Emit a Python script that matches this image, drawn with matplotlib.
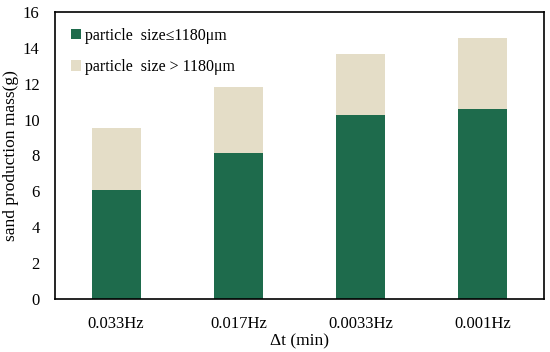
import matplotlib
matplotlib.use("Agg")
import matplotlib.pyplot as plt
import numpy as np

plt.rcParams['font.family'] = ['Liberation Serif', 'DejaVu Serif']

# data
categories = ["0.033Hz", "0.017Hz", "0.0033Hz", "0.001Hz"]
fine = [6.08, 8.14, 10.25, 10.6]      # particle size <= 1180um
coarse_total = [9.53, 11.8, 13.65, 14.55]
coarse = [t - f for t, f in zip(coarse_total, fine)]

fig = plt.figure(figsize=(5.5, 3.52), dpi=100)
ax = fig.add_axes([0.1, 0.1506, 0.889, 0.8154])

x = np.arange(len(categories))
ax.bar(x, fine, width=0.4, color="#1e6b4c", label="particle  size\u22641180\u03bcm")
ax.bar(x, coarse, width=0.4, bottom=fine, color="#e4ddc7", label="particle  size > 1180\u03bcm")

ax.set_xlim(-0.5, 3.5)
ax.set_ylim(0, 16)
ax.set_yticks(range(0, 17, 2))
ax.set_xticks(x)
ax.set_xticklabels(categories)
ax.tick_params(length=0, labelsize=12)
ax.tick_params(axis='y', pad=11)
ax.tick_params(axis='x', pad=12)

for s in ax.spines.values():
    s.set_linewidth(1.2)

ax.set_ylabel("sand production mass(g)", fontsize=12.5)
ax.yaxis.set_label_coords(-0.074, 0.5)
ax.set_xlabel("\u0394t (min)", fontsize=12.5, labelpad=1)

ax.legend(loc="upper left", frameon=False, fontsize=11.5, handlelength=0.6,
          handleheight=0.6, handletextpad=0.3, labelspacing=0.95,
          borderaxespad=0.6)

plt.savefig("out.png", dpi=100)
